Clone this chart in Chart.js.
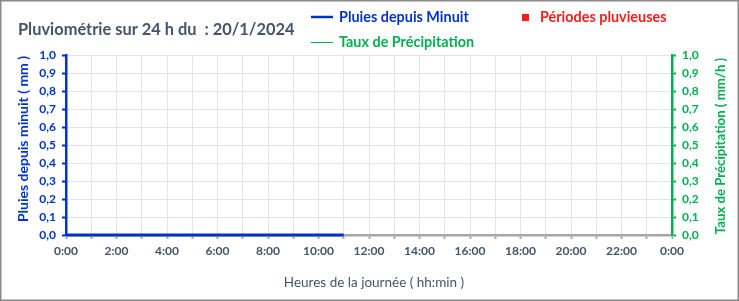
<!DOCTYPE html>
<html>
<head>
<meta charset="utf-8">
<script src="https://cdn.jsdelivr.net/npm/chart.js@4.4.1/dist/chart.umd.min.js"></script>
<style>
  html, body { margin: 0; padding: 0; background: #ffffff; }
  #wrap { width: 739px; height: 301px; position: relative; }
</style>
</head>
<body>
<div id="wrap"><canvas id="c" width="739" height="301"></canvas></div>
<script>
// Time of each reading, in minutes since midnight
const minutes = [0, 60, 120, 180, 240, 300, 360, 420, 480, 540, 600, 660];
// Rain accumulated since midnight (mm)
const pluieDepuisMinuit = [0, 0, 0, 0, 0, 0, 0, 0, 0, 0, 0, 0];
// Precipitation rate (mm/h)
const tauxPrecipitation = [0, 0, 0, 0, 0, 0, 0, 0, 0, 0, 0, 0];
// Rainy periods (none recorded on this day)
const periodesPluvieuses = [];

const titre = 'Pluviométrie sur 24 h du  : 20/1/2024';
const titreAxeGauche = 'Pluies depuis minuit ( mm )';
const titreAxeDroit = 'Taux de Précipitation ( mm/h )';
const titreAxeX = 'Heures de la journée ( hh:min )';

const BLUE = '#0033CC';
const GREEN = '#00B050';
const RED = '#FF1A1A';
const SLATE = '#44546A';
const GRID = '#E1E4EE';
const AXIS_GREY = '#A6A6A6';
const FONT = 'Lato, "Open Sans", sans-serif';

const toPoints = (vals) => vals.map((v, i) => ({ x: minutes[i], y: v }));
const fmt = (v) => v.toFixed(1).replace('.', ',');

// Title, legend, axis titles and outer frame drawn on the canvas
const decor = {
  id: 'decor',
  afterDraw(chart) {
    const ctx = chart.ctx;
    const ca = chart.chartArea;
    ctx.save();
    ctx.textBaseline = 'middle';

    // Main title
    ctx.fillStyle = SLATE;
    ctx.font = 'bold 16.4px ' + FONT;
    ctx.textAlign = 'left';
    ctx.fillText(titre, 18, 30);

    // Legend row 1
    ctx.strokeStyle = BLUE; ctx.lineWidth = 2.5;
    ctx.beginPath(); ctx.moveTo(311, 17); ctx.lineTo(333, 17); ctx.stroke();
    ctx.font = 'bold 14.4px ' + FONT;
    ctx.fillStyle = BLUE;
    ctx.fillText('Pluies depuis Minuit', 339, 17);
    ctx.fillStyle = RED;
    ctx.fillRect(522, 14, 7, 7);
    ctx.fillText('Périodes pluvieuses', 540, 17);

    // Legend row 2
    ctx.strokeStyle = GREEN; ctx.lineWidth = 1;
    ctx.beginPath(); ctx.moveTo(311, 42.5); ctx.lineTo(333, 42.5); ctx.stroke();
    ctx.fillStyle = GREEN;
    ctx.fillText('Taux de Précipitation', 339, 42);

    // Left axis title
    const cy = (ca.top + ca.bottom) / 2;
    ctx.textAlign = 'center';
    ctx.save();
    ctx.font = 'bold 14px ' + FONT;
    ctx.translate(23, cy - 6);
    ctx.rotate(-Math.PI / 2);
    ctx.fillStyle = BLUE;
    ctx.fillText(titreAxeGauche, 0, 0);
    ctx.restore();

    // Right axis title
    ctx.save();
    ctx.font = 'bold 13.2px ' + FONT;
    ctx.translate(721, cy + 1);
    ctx.rotate(-Math.PI / 2);
    ctx.fillStyle = GREEN;
    ctx.fillText(titreAxeDroit, 0, 0);
    ctx.restore();

    // X axis title
    ctx.font = '13.5px ' + FONT;
    ctx.fillStyle = SLATE;
    ctx.fillText(titreAxeX, 374, 283);

    // Outer frame
    ctx.strokeStyle = '#8A8A8A';
    ctx.lineWidth = 1.5;
    ctx.strokeRect(0.75, 0.75, 737.5, 299.5);
    ctx.restore();
  }
};

new Chart(document.getElementById('c'), {
  type: 'line',
  data: {
    datasets: [
      {
        label: 'Pluies depuis Minuit',
        data: toPoints(pluieDepuisMinuit),
        borderColor: BLUE,
        borderWidth: 3,
        pointRadius: 0,
        yAxisID: 'y',
        tension: 0,
        clip: false
      },
      {
        label: 'Taux de Précipitation',
        data: toPoints(tauxPrecipitation),
        borderColor: GREEN,
        borderWidth: 1,
        pointRadius: 0,
        yAxisID: 'y2',
        tension: 0,
        clip: false
      },
      {
        label: 'Périodes pluvieuses',
        type: 'bar',
        data: periodesPluvieuses,
        backgroundColor: RED,
        yAxisID: 'y2'
      }
    ]
  },
  options: {
    responsive: false,
    animation: false,
    layout: { padding: { top: 55, left: 0, right: 0, bottom: 0 } },
    plugins: {
      legend: { display: false },
      title: { display: false },
      tooltip: { enabled: false }
    },
    scales: {
      x: {
        type: 'linear',
        min: 0,
        max: 1440,
        offset: false,
        afterFit(s) { s.height = 66; },
        afterBuildTicks(s) {
          s.ticks = [];
          for (let m = 0; m <= 1440; m += 60) s.ticks.push({ value: m });
        },
        ticks: {
          autoSkip: false,
          maxRotation: 0,
          padding: 5,
          color: SLATE,
          font: { family: FONT, size: 12, weight: 'bold' },
          callback(v) {
            if (v % 120 !== 0) return '';
            return ((v / 60) % 24) + ':00';
          }
        },
        grid: { offset: false, color: GRID, lineWidth: 1, tickLength: 4, tickColor: AXIS_GREY, tickWidth: 2 },
        border: { color: AXIS_GREY, width: 2.5 }
      },
      y: {
        position: 'left',
        min: 0,
        max: 1,
        afterFit(s) { s.width = 66; },
        ticks: {
          stepSize: 0.1,
          padding: 6,
          color: BLUE,
          font: { family: FONT, size: 12, weight: 'bold' },
          callback: (v) => fmt(v)
        },
        grid: { color: GRID, lineWidth: 1, tickLength: 4, tickColor: BLUE, tickWidth: 2 },
        border: { color: BLUE, width: 2.5 }
      },
      y2: {
        position: 'right',
        min: 0,
        max: 1,
        afterFit(s) { s.width = 67; },
        ticks: {
          stepSize: 0.1,
          padding: 6,
          color: GREEN,
          font: { family: FONT, size: 12, weight: 'bold' },
          callback: (v) => fmt(v)
        },
        grid: { drawOnChartArea: false, tickLength: 4, tickColor: GREEN, tickWidth: 2 },
        border: { color: GREEN, width: 2.5 }
      }
    }
  },
  plugins: [decor]
});
</script>
</body>
</html>
